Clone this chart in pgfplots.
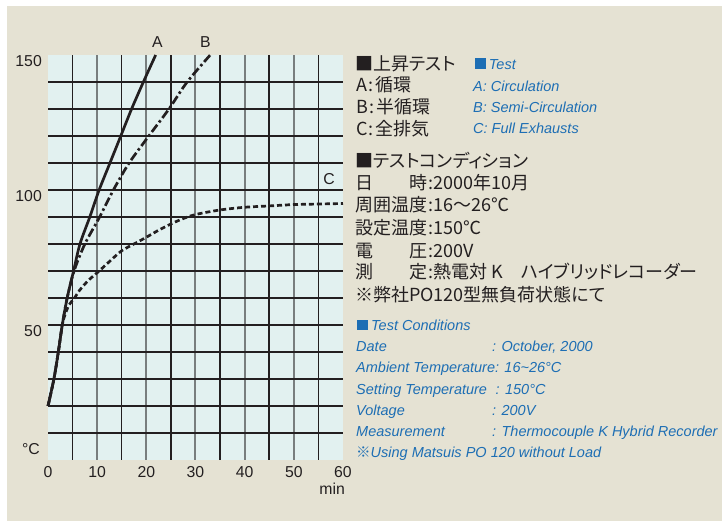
\documentclass[border=0pt]{standalone}
\usepackage{pgfplots}
\pgfplotsset{compat=1.18}
\usepackage{fontspec}
\setmainfont{Liberation Sans}
\newfontfamily\jp{Noto Sans CJK JP}[RawFeature=+palt]
\definecolor{bgbeige}{RGB}{229,226,211}
\definecolor{plotbg}{RGB}{226,241,240}
\definecolor{ink}{RGB}{35,31,32}
\definecolor{gridgray}{RGB}{120,126,126}
\definecolor{tblue}{RGB}{29,110,180}
\newcommand{\J}{\fontsize{18}{20}\selectfont\jp}
\newcommand{\E}{\fontsize{14.5}{16}\selectfont\itshape}
\newcommand{\T}{\fontsize{15.8}{18}\selectfont}
\begin{document}
\begin{tikzpicture}[x=1pt,y=1pt]
\path[use as bounding box, fill=white] (0,0) rectangle (722,521);
\fill[bgbeige] (7,0) rectangle (722,515);
\begin{axis}[at={(48pt,61pt)}, anchor=south west, scale only axis,
  width=295pt, height=405pt,
  xmin=0, xmax=60, ymin=0, ymax=150,
  axis line style={draw=none},
  axis background/.style={fill=plotbg},
  xtick={0,10,20,30,40,50,60}, ytick={50,100,150},
  major tick length=0pt, tick style={draw=none},
  /pgf/number format/assume math mode=true,
  xticklabel style={font=\T, text=ink, inner sep=0pt, anchor=north, yshift=-6pt},
  yticklabel style={font=\T, text=ink, inner sep=0pt, anchor=north east, xshift=-6pt},
  clip=false]
\pgfplotsinvokeforeach{10,20,30,40,50}{\draw[gridgray, line width=2pt] (axis cs:#1,0) -- (axis cs:#1,150);}
\pgfplotsinvokeforeach{10,20,30,40,50,60,70,80,90,100,110,120,130,140}{\draw[ink, line width=1.5pt] (axis cs:0,#1) -- (axis cs:60,#1);}
\pgfplotsinvokeforeach{5,15,25,35,45,55}{\draw[ink, line width=1.5pt] (axis cs:#1,0) -- (axis cs:#1,150);}
% C
\addplot[ink, line width=2.7pt, smooth, dash pattern=on 5pt off 3pt] coordinates {
(0,20) (1.2,30) (2.1,40) (2.9,50) (3.5,54) (4.3,57.5) (5.4,60) (6.4,62.8) (8.2,66.5) (10.4,70) (12.5,73.5) (15,77.5) (18,80.5) (20,82.5) (23,85.6) (26.8,88.9) (30,90.9) (35,92.6) (40,93.6) (45,94.1) (50,94.6) (55,94.8) (60,95.0)};
% B
\addplot[ink, line width=2.7pt, smooth, dash pattern=on 9pt off 3pt on 2.5pt off 3pt] coordinates {
(0,20) (1.2,30) (2.1,40) (2.9,50) (3.9,60) (5.3,70) (7.5,80) (10.5,90) (13.3,100) (16.5,110) (20.5,120) (24.6,130) (28.3,140) (33,150)};
% A
\addplot[ink, line width=2.7pt, smooth] coordinates {
(0,20) (1.2,30) (2.1,40) (2.9,50) (3.9,60) (5.2,70) (6.5,80) (8.5,90) (10.4,100) (12.6,110) (14.8,120) (17.0,130) (19.4,140) (21.9,150)};
\end{axis}
% curve labels and units
\node[anchor=base, inner sep=0pt, text=ink, font=\T] at (157.5,473.7) {A};
\node[anchor=base, inner sep=0pt, text=ink, font=\T] at (205.3,473.7) {B};
\node[anchor=base, inner sep=0pt, text=ink, font=\T] at (329,336) {C};
\node[anchor=base east, inner sep=0pt, text=ink, font=\T] at (40,66) {°C};
\node[anchor=base east, inner sep=0pt, text=ink, font=\T] at (345,26) {min};
% Japanese block
\begin{scope}[every node/.style={anchor=base west, inner sep=0pt, text=ink, font=\J}]
\node at (355,450.2) {■上昇テスト};
\node at (356,429.2) {A\kern1pt:\kern2pt循環};
\node at (356,407.2) {B\kern1pt:\kern2pt半循環};
\node at (356,385.2) {C\kern1pt:\kern2pt全排気};
\node at (355,353.2) {■テストコンディション};
\node at (355,331.2) {日　　時\kern1pt:2000年10月};
\node at (355,309.2) {周囲温度\kern1pt:16～26℃};
\node at (355,286.2) {設定温度\kern1pt:150℃};
\node at (355,263.2) {電　　圧\kern1pt:200V};
\node at (355,242.2) {測　　定\kern1pt:熱電対 K　ハイブリッドレコーダー};
\node at (355,219.2) {※弊社PO120型無負荷状態にて};
\end{scope}
% English block
\begin{scope}[every node/.style={anchor=base west, inner sep=0pt, text=tblue, font=\E}]
\node at (475,451.8) {\rule{10.7pt}{10.7pt}\hspace{3pt}Test};
\node at (473,429.8) {A: Circulation};
\node at (473,408.8) {B: Semi-Circulation};
\node at (473,387.8) {C: Full Exhausts};
\node at (356.5,190.8) {\rule{11.5pt}{10.5pt}\hspace{3pt}Test Conditions};
\node at (356,169.8) {Date};
\node at (492,169.8) {: October, 2000};
\node at (356,148.3) {Ambient Temperature: 16\textasciitilde 26°C};
\node at (356,126.8) {Setting Temperature};
\node at (495.5,126.8) {: 150°C};
\node at (356,105.8) {Voltage};
\node at (492,105.8) {: 200V};
\node at (356,84.1) {Measurement};
\node at (492,84.1) {: Thermocouple K Hybrid Recorder};
\node at (356,63.1) {{\upshape\fontsize{14.5}{16}\selectfont\jp ※}Using Matsuis PO 120 without Load};
\end{scope}
\end{tikzpicture}
\end{document}
